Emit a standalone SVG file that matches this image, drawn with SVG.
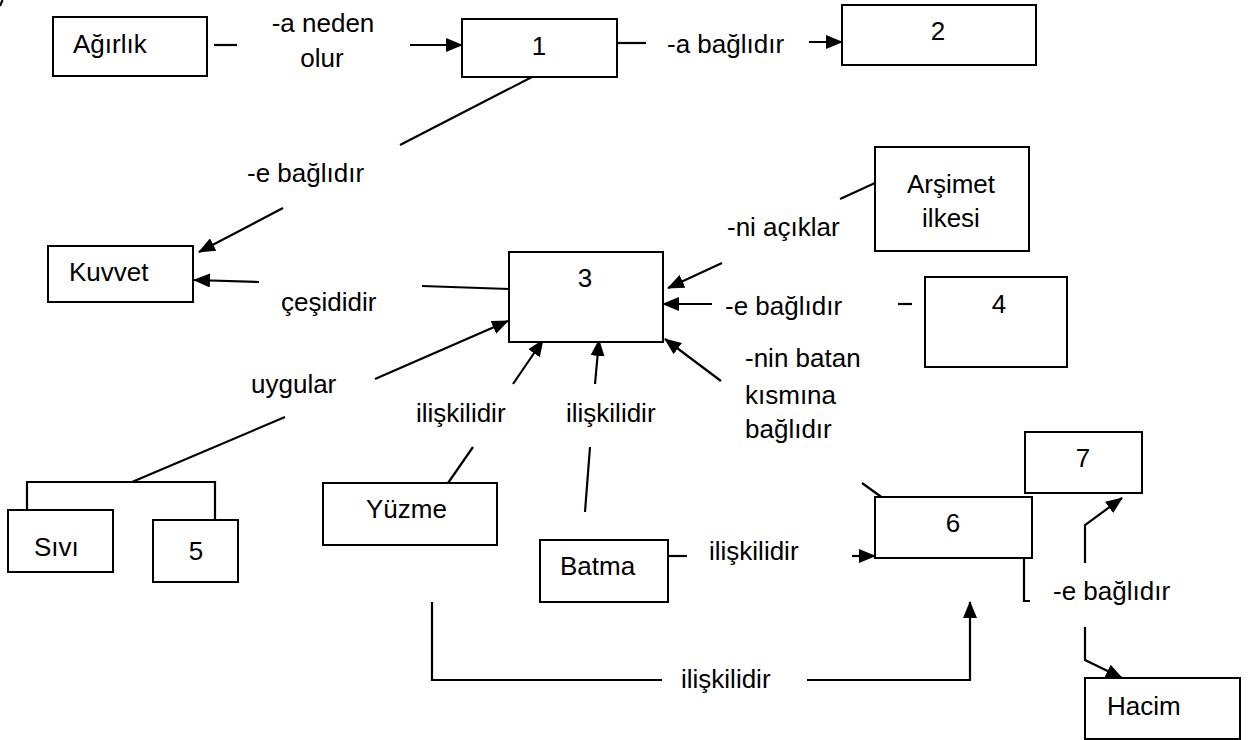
<svg xmlns="http://www.w3.org/2000/svg" width="1249" height="740" viewBox="0 0 1249 740">
  <defs>
    <marker id="arrow" markerUnits="userSpaceOnUse" markerWidth="17" markerHeight="14" refX="16" refY="7" orient="auto">
      <path d="M0,0 L17,7 L0,14 z" fill="#000"/>
    </marker>
  </defs>
  <style>
    .box { fill: #fff; stroke: #000; stroke-width: 2; }
    .lbl { font-family: "Liberation Sans", Arial, sans-serif; font-size: 26px; fill: #000; }
    .mid { text-anchor: middle; }
    .ln { fill: none; stroke: #000; stroke-width: 2.2; }
    .arr { fill: none; stroke: #000; stroke-width: 2.2; marker-end: url(#arrow); }
  </style>
  <rect width="1249" height="740" fill="#fff"/>

  <!-- connectors -->
  <g id="connectors">
    <line class="ln" x1="0" y1="6" x2="2.5" y2="0"/>
    <!-- Ağırlık -> 1 -->
    <line class="ln" x1="214" y1="45" x2="237" y2="45"/>
    <line class="arr" x1="410" y1="45" x2="462" y2="45"/>
    <!-- 1 -> 2 -->
    <line class="ln" x1="618" y1="43" x2="646" y2="43"/>
    <line class="arr" x1="809" y1="42" x2="842" y2="42"/>
    <!-- 1 -> Kuvvet -->
    <line class="ln" x1="532" y1="77" x2="400" y2="145"/>
    <line class="arr" x1="283" y1="208" x2="199" y2="252"/>
    <!-- 3 -> Kuvvet -->
    <line class="arr" x1="259" y1="282" x2="194" y2="280"/>
    <line class="ln" x1="422" y1="286" x2="509" y2="289"/>
    <!-- Arşimet ilkesi -> 3 -->
    <line class="ln" x1="875" y1="183" x2="840" y2="199"/>
    <line class="arr" x1="722" y1="263" x2="668" y2="288"/>
    <!-- 4 -> 3 -->
    <line class="arr" x1="712" y1="304" x2="663" y2="304"/>
    <line class="ln" x1="898" y1="304" x2="912" y2="304"/>
    <!-- bottom right -> 3 -->
    <line class="arr" x1="721" y1="381" x2="665" y2="339"/>
    <line class="ln" x1="862" y1="483" x2="898" y2="509"/>
    <!-- Sıvı / 5 -> 3 -->
    <line class="arr" x1="375" y1="379" x2="508" y2="321"/>
    <line class="ln" x1="285" y1="417" x2="132" y2="482"/>
    <polyline class="ln" points="27,515 27,482 215,482 215,525"/>
    <!-- Yüzme -> 3 -->
    <line class="arr" x1="513" y1="384" x2="543" y2="340"/>
    <line class="ln" x1="473" y1="447" x2="448" y2="483"/>
    <!-- Batma -> 3 -->
    <line class="arr" x1="595" y1="384" x2="599" y2="340"/>
    <line class="ln" x1="590" y1="447" x2="585" y2="512"/>
    <!-- Batma -> 6 -->
    <line class="ln" x1="668" y1="556" x2="687" y2="556"/>
    <line class="arr" x1="852" y1="556" x2="875" y2="556"/>
    <!-- Yüzme -> 6 -->
    <polyline class="ln" points="432,602 432,680 662,680"/>
    <polyline class="arr" points="807,680 970,680 970,602"/>
    <!-- 6 -> 7 / Hacim -->
    <polyline class="ln" points="1024,558 1024,601 1030,601"/>
    <polyline class="arr" points="1085,563 1085,525 1122,498"/>
    <polyline class="arr" points="1085,627 1085,660 1122,678"/>
  </g>

  <!-- edge labels -->
  <g id="labels">
    <text class="lbl mid" x="323" y="32">-a neden</text>
    <text class="lbl mid" x="322" y="67">olur</text>
    <text class="lbl" x="667" y="53">-a bağlıdır</text>
    <text class="lbl" x="247" y="182">-e bağlıdır</text>
    <text class="lbl" x="281" y="311">çeşididir</text>
    <text class="lbl" x="727" y="236">-ni açıklar</text>
    <text class="lbl" x="725" y="315">-e bağlıdır</text>
    <text class="lbl" x="745" y="367">-nin batan</text>
    <text class="lbl" x="745" y="404">kısmına</text>
    <text class="lbl" x="745" y="438">bağlıdır</text>
    <text class="lbl" x="251" y="393">uygular</text>
    <text class="lbl" x="416" y="422">ilişkilidir</text>
    <text class="lbl" x="566" y="422">ilişkilidir</text>
    <text class="lbl" x="709" y="560">ilişkilidir</text>
    <text class="lbl" x="681" y="688">ilişkilidir</text>
    <text class="lbl" x="1053" y="600">-e bağlıdır</text>
  </g>

  <!-- nodes -->
  <g id="node-agirlik">
    <rect class="box" x="53" y="17" width="154" height="59"/>
    <text class="lbl" x="73" y="53">Ağırlık</text>
  </g>
  <g id="node-1">
    <rect class="box" x="462" y="19" width="155" height="58"/>
    <text class="lbl mid" x="539" y="55">1</text>
  </g>
  <g id="node-2">
    <rect class="box" x="842" y="5" width="194" height="60"/>
    <text class="lbl mid" x="938" y="40">2</text>
  </g>
  <g id="node-kuvvet">
    <rect class="box" x="48" y="246" width="145" height="56"/>
    <text class="lbl" x="69" y="281">Kuvvet</text>
  </g>
  <g id="node-3">
    <rect class="box" x="509" y="252" width="154" height="90"/>
    <text class="lbl mid" x="585" y="287">3</text>
  </g>
  <g id="node-arsimet">
    <rect class="box" x="875" y="147" width="154" height="104"/>
    <text class="lbl mid" x="951" y="193">Arşimet</text>
    <text class="lbl mid" x="951" y="227">ilkesi</text>
  </g>
  <g id="node-4">
    <rect class="box" x="925" y="277" width="142" height="90"/>
    <text class="lbl mid" x="999" y="313">4</text>
  </g>
  <g id="node-sivi">
    <rect class="box" x="8" y="510" width="105" height="62"/>
    <text class="lbl" x="34" y="556">Sıvı</text>
  </g>
  <g id="node-5">
    <rect class="box" x="153" y="520" width="85" height="62"/>
    <text class="lbl mid" x="196" y="560">5</text>
  </g>
  <g id="node-yuzme">
    <rect class="box" x="323" y="483" width="174" height="62"/>
    <text class="lbl" x="366" y="518">Yüzme</text>
  </g>
  <g id="node-batma">
    <rect class="box" x="540" y="540" width="128" height="62"/>
    <text class="lbl" x="560" y="575">Batma</text>
  </g>
  <g id="node-6">
    <rect class="box" x="875" y="497" width="157" height="61"/>
    <text class="lbl mid" x="953" y="532">6</text>
  </g>
  <g id="node-7">
    <rect class="box" x="1025" y="432" width="117" height="61"/>
    <text class="lbl mid" x="1083" y="467">7</text>
  </g>
  <g id="node-hacim">
    <rect class="box" x="1085" y="678" width="155" height="61"/>
    <text class="lbl" x="1107" y="715">Hacim</text>
  </g>
</svg>
